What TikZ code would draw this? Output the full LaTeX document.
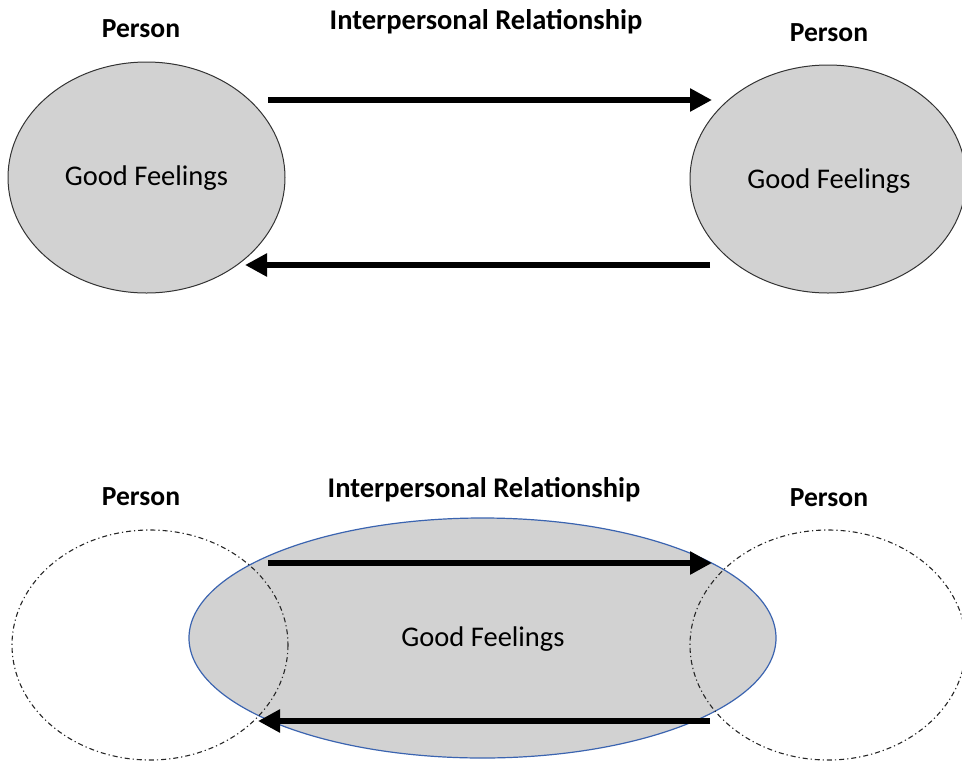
\documentclass[tikz,border=0pt]{standalone}
\usepackage{fontspec}
\setmainfont{Carlito}
\usetikzlibrary{arrows.meta}
\definecolor{fillgrey}{HTML}{D2D2D2}
\definecolor{edgeblue}{HTML}{3B64B0}
\tikzset{
  ghost/.style={draw=black!85, line width=1.1pt, dash pattern=on 5pt off 3pt on 1.2pt off 3pt},
  lbl/.style={font=\fontsize{27.6}{30}\selectfont\bfseries, inner sep=0pt},
  irlbl/.style={font=\fontsize{28.5}{31}\selectfont\bfseries, inner sep=0pt},
  gf/.style={font=\fontsize{28.5}{31}\selectfont, inner sep=0pt},
  bigarrow/.style={line width=6.5pt, -{Triangle[length=22pt,width=22pt]}},
}
\begin{document}
\begin{tikzpicture}[x=1pt,y=-1pt]
\useasboundingbox (0,0) rectangle (962,761);
% top
\draw[draw=black!80, line width=1pt, fill=fillgrey] (146.5,177.5) ellipse [x radius=138.5, y radius=115.5];
\draw[draw=black!80, line width=1pt, fill=fillgrey] (828,179) ellipse [x radius=138, y radius=114];
\node[gf] (gfl) at (146.5,178) {Good Feelings};
\node[gf] (gfr) at (829,181) {Good Feelings};
\node[lbl] (p1) at (141,29) {Person};
\node[lbl] (p2) at (829,33) {Person};
\node[irlbl] (ir1) at (486,22) {Interpersonal Relationship};
\coordinate (a1s) at (268,100);
\coordinate (a1e) at (712,100);
\coordinate (a2s) at (710,265);
\coordinate (a2e) at (245,265);
\draw[bigarrow] (a1s) -- (a1e);
\draw[bigarrow] (a2s) -- (a2e);
% bottom
\draw[edgeblue, line width=1.2pt, fill=fillgrey] (482.5,638) ellipse [x radius=293.5, y radius=120];
\draw[ghost] (150,645) ellipse [x radius=138, y radius=115];
\draw[ghost] (828,645) ellipse [x radius=138, y radius=115];
\node[gf] (gfb) at (483,639) {Good Feelings};
\node[lbl] (p3) at (141,497) {Person};
\node[lbl] (p4) at (829,498) {Person};
\node[irlbl] (ir2) at (484,490) {Interpersonal Relationship};
\coordinate (b1s) at (268,563);
\coordinate (b1e) at (712,563);
\coordinate (b2s) at (710,721);
\coordinate (b2e) at (258,721);
\draw[bigarrow] (b1s) -- (b1e);
\draw[bigarrow] (b2s) -- (b2e);
\end{tikzpicture}
\end{document}
